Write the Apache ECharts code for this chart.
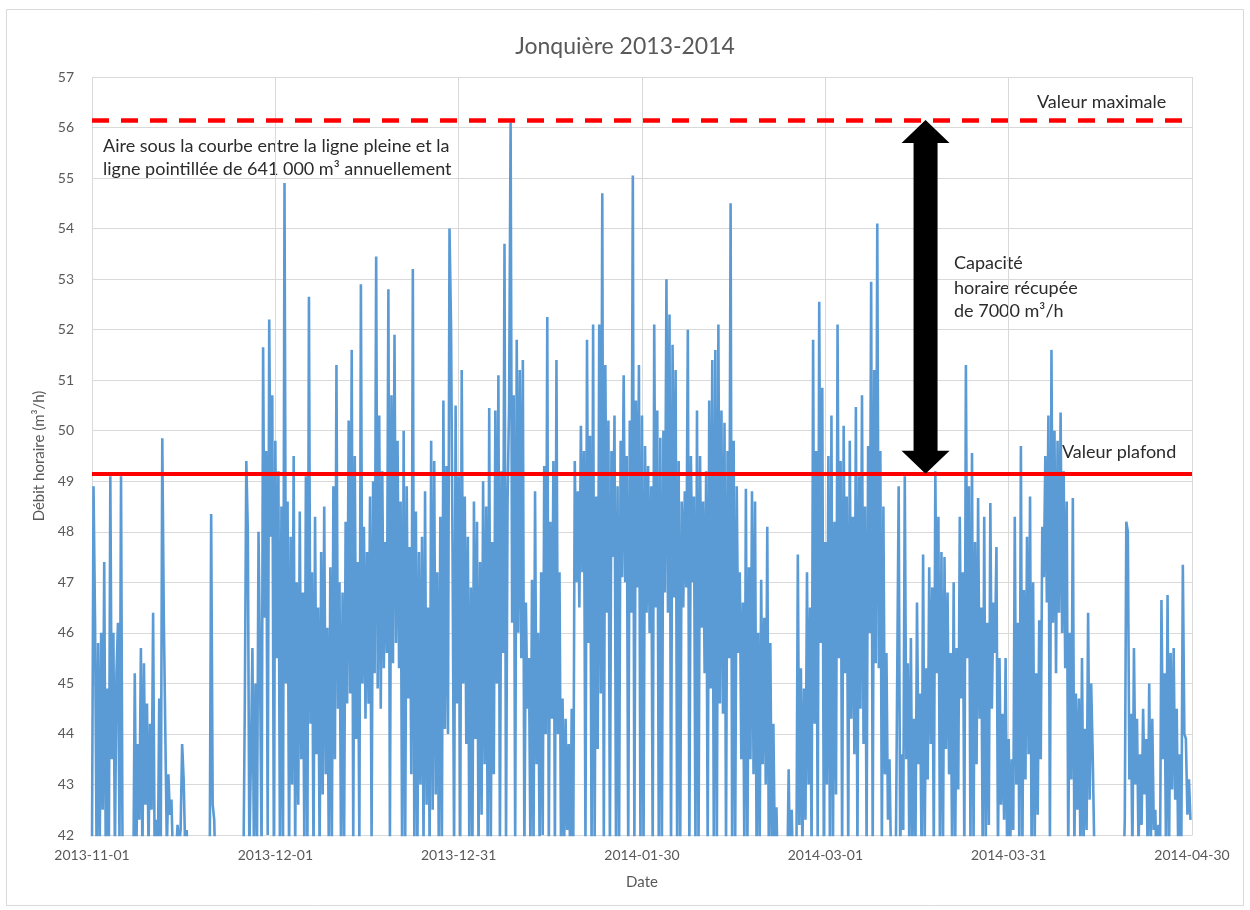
<!DOCTYPE html>
<html><head><meta charset="utf-8">
<script src="https://cdn.jsdelivr.net/npm/echarts@6/dist/echarts.min.js"></script>
<style>html,body{margin:0;padding:0;background:#fff}#c{width:1250px;height:910px}</style>
</head><body><div id="c"></div>
<script>
// Off-scale value (below the 42 axis minimum, clipped by the plot area)
const L = 41;
// Hourly flow (thousands m3/h), 4 readings per day (0h, 6h, 12h, 18h)
const nov = [
41.8,48.9,46.2,41.6, 45.8,41.5,46.0,42.5, 47.4,41.6,44.9,41.5, 49.1,43.5,46.0,41.6, 45.2,46.2,41.8,49.1,
41.5,L,L,L, L,L,L,L, 45.2,41.6,43.8,42.3, 45.7,41.5,45.4,42.6, 44.6,41.7,44.2,42.5,
46.4,41.6,42.3,L, 44.7,41.6,49.85,46.3, 44.0,41.7,43.2,42.4, 42.7,41.5,L,L, 42.2,41.8,42.1,43.8,
43.1,41.7,42.1,L, L,L,L,L, L,L,L,L, L,L,L,L, L,L,48.35,42.6,
42.3,L,L,L, L,L,L,L, L,L,L,L, L,L,L,L, L,L,L,L,
44.5,49.4,48.0,41.6, 43.5,45.7,41.6,45.0, 41.8,48.0,45.3,41.6, 51.65,46.3,49.6,42.0, 52.2,47.9,50.7,41.8
];
const dec = [
49.8,45.5,49.2,41.7, 48.5,41.6,54.9,45.0, 48.6,41.5,47.9,43.0, 49.5,41.6,47.0,42.6, 48.4,43.5,46.8,41.6,
49.1,41.7,52.65,44.2, 47.2,41.5,48.3,43.6, 46.5,41.6,47.6,42.8, 48.5,43.2,46.1,41.6, 47.3,41.8,48.9,43.5,
51.3,44.5,47.0,41.6, 46.8,41.7,48.2,44.6, 50.2,44.8,51.6,41.8, 49.5,43.9,47.4,41.7, 52.9,45.0,48.1,44.3,
47.6,44.6,48.7,41.8, 49.0,45.2,53.45,44.9, 50.3,44.5,49.2,45.3, 47.8,45.6,52.8,41.9, 50.7,45.4,51.9,45.8,
49.8,45.3,48.6,41.6, 50.0,41.7,48.9,44.7, 47.7,43.2,53.2,41.6, 48.4,41.6,47.6,43.0, 47.9,41.7,48.8,42.6,
46.5,41.6,49.8,42.5, 49.4,42.8,47.2,41.6, 48.3,41.7,50.6,44.1, 49.3,44.0,54.0,52.1, 47.6,41.6,50.5,44.6,
49.1,41.7,51.2,45.0
];
const jan = [
48.7,43.8,47.9,41.6, 46.9,41.7,48.6,43.9, 48.2,41.6,47.4,42.4, 49.0,43.4,48.5,41.7, 50.45,41.6,47.8,43.2,
50.4,45.0,51.1,41.7, 49.2,45.6,53.7,41.8, 48.6,50.5,56.1,46.2, 50.7,41.7,51.8,46.0, 51.2,45.5,51.4,41.6,
46.6,44.5,45.5,41.6, 47.05,41.7,48.8,43.4, 46.0,41.6,47.2,42.0, 49.3,44.0,52.25,41.7, 48.2,44.3,49.4,41.6,
51.4,44.0,47.2,41.7, 44.7,41.6,44.3,42.1, 43.8,41.5,44.5,41.6, 49.4,47.0,48.8,46.5, 50.1,47.2,49.6,41.7,
51.8,45.8,49.9,41.6, 52.1,41.7,48.7,43.7, 52.1,44.8,54.7,41.6, 51.3,46.4,50.2,41.7, 49.6,47.5,50.3,41.6,
48.9,41.7,49.8,47.1, 51.1,47.0,49.5,41.6, 50.2,46.4,55.05,41.7, 50.6,46.9,51.3,41.6, 50.3,41.6,49.7,46.4,
49.3,46.0,48.9,41.6
];
const feb = [
52.1,46.5,50.4,41.7, 49.86,41.6,50.0,46.8, 53.0,46.4,52.3,41.6, 51.7,46.7,51.2,41.7, 49.4,41.6,48.6,46.5,
48.8,46.9,52.0,41.6, 49.5,47.0,48.7,41.7, 50.4,41.6,49.5,46.1, 48.6,45.2,49.2,41.6, 50.6,44.9,51.4,41.7,
51.6,41.6,52.1,44.6, 50.4,44.4,50.16,41.7, 49.6,45.5,54.5,41.6, 49.8,41.7,48.9,45.6, 47.2,43.5,46.6,41.6,
48.85,41.7,47.3,43.5, 48.8,43.2,48.6,41.6, 46.0,41.7,47.05,43.4, 46.3,43.0,48.1,41.6, 45.8,41.7,44.2,41.5,
42.55,L,L,L, L,L,L,L, 43.3,L,42.5,L, L,L,47.55,42.2, 45.3,41.6,44.9,42.3,
47.2,43.0,46.5,41.6, 51.8,44.2,49.6,41.7, 52.55,45.8,50.85,41.6
];
const mar = [
47.8,43.0,49.5,41.6, 50.3,41.7,48.2,42.8, 52.1,45.5,49.4,41.6, 50.1,45.2,48.7,41.7, 49.8,44.3,48.3,43.6,
50.47,41.6,49.1,44.5, 50.7,43.8,48.5,41.7, 49.7,46.0,52.95,41.6, 51.2,45.4,54.1,45.3, 49.6,41.7,48.5,43.2,
45.6,42.3,43.5,41.5, L,L,L,L, 48.9,41.6,43.6,42.1, 49.1,43.5,45.4,41.6, 45.9,41.7,44.3,41.8,
46.6,43.4,44.8,41.6, 47.55,41.7,45.3,43.1, 47.3,43.8,46.9,41.6, 49.2,45.2,48.3,41.7, 47.6,41.6,47.5,43.7,
46.8,43.2,45.6,41.6, 47.0,41.7,45.7,42.9, 48.3,44.7,47.2,41.6, 51.3,45.5,48.9,41.7, 49.56,41.6,47.8,43.4,
48.67,44.3,46.5,41.6, 48.3,41.7,46.2,42.2, 48.57,44.5,46.6,45.6, 47.7,41.6,45.5,42.6, 44.4,42.3,45.5,41.6,
43.9,41.7,43.5,42.1
];
const apr = [
48.3,43.0,46.2,41.6, 49.7,41.7,46.85,43.1, 47.9,43.6,48.7,41.6, 47.0,41.7,45.2,42.4, 46.25,43.5,48.1,47.1,
49.5,46.6,50.3,41.7, 51.6,46.2,50.0,45.2, 49.8,46.4,50.36,46.0, 49.2,45.3,48.6,41.6, 46.0,43.1,48.67,41.7,
44.8,42.5,44.7,41.6, 45.5,41.7,44.1,42.1, 46.4,42.7,45.0,43.6, 41.8,L,L,L, L,L,L,L,
L,L,L,L, L,L,L,L, L,L,L,L, 42.3,48.2,48.0,43.1, 44.4,41.6,45.7,43.0,
44.3,41.7,43.6,42.2, 44.5,42.8,43.9,41.6, 45.0,41.7,44.3,42.1, 42.5,L,42.2,L, 46.65,43.5,45.2,41.6,
46.75,41.7,45.6,42.9, 45.7,42.7,44.5,41.6, 43.6,41.7,47.35,44.0, 43.9,42.4,43.1,42.3
];
const tickLabels = ['2013-11-01','2013-12-01','2013-12-31','2014-01-30','2014-03-01','2014-03-31','2014-04-30'];
const maxValue = 56.15;      // Valeur maximale
const ceilingValue = 49.15;  // Valeur plafond
const arrowDay = 136.4;
const samplesPerDay = 4;

const values = nov.concat(dec, jan, feb, mar, apr);
const flowData = values.map((v, i) => [i / samplesPerDay, v]);

const FONT = 'Lato, "Open Sans", sans-serif';
const TXT = {fontFamily: FONT, fontSize: 18, fill: '#2b2b2b'};
const chart = echarts.init(document.getElementById('c'), null, {renderer: 'canvas'});
chart.setOption({
  animation: false,
  backgroundColor: '#fff',
  title: {
    text: 'Jonquière 2013-2014', left: 'center', top: 30,
    textStyle: {fontFamily: FONT, fontSize: 23, fontWeight: 'normal', color: '#595959'}
  },
  grid: {left: 92, right: 58, top: 77, bottom: 75},
  xAxis: {
    type: 'value', min: 0, max: 180, interval: 30,
    name: 'Date', nameLocation: 'middle', nameGap: 40,
    nameTextStyle: {fontFamily: FONT, fontSize: 15, color: '#595959'},
    axisLine: {show: true, lineStyle: {color: '#d9d9d9', width: 1}},
    axisTick: {show: false},
    axisLabel: {fontFamily: FONT, fontSize: 14, color: '#595959', margin: 13,
      formatter: v => tickLabels[Math.round(v / 30)]},
    splitLine: {show: true, lineStyle: {color: '#d9d9d9', width: 1}}
  },
  yAxis: {
    type: 'value', min: 42, max: 57, interval: 1,
    name: 'Débit horaire (m³/h)', nameLocation: 'middle', nameGap: 44,
    nameTextStyle: {fontFamily: FONT, fontSize: 15, color: '#595959'},
    axisLine: {show: false}, axisTick: {show: false},
    axisLabel: {fontFamily: FONT, fontSize: 14, color: '#595959', margin: 18},
    splitLine: {show: true, lineStyle: {color: '#d9d9d9', width: 1}}
  },
  graphic: [
    {type: 'rect', shape: {x: 6.5, y: 9.5, width: 1237, height: 896}, style: {fill: 'none', stroke: '#d9d9d9', lineWidth: 1}, z: -10},
    {type: 'text', left: 103, top: 137, style: Object.assign({text: 'Aire sous la courbe entre la ligne pleine et la'}, TXT)},
    {type: 'text', left: 103, top: 160, style: Object.assign({text: 'ligne pointillée de 641 000 m³ annuellement'}, TXT)},
    {type: 'text', left: 954, top: 254, style: Object.assign({text: 'Capacité'}, TXT)},
    {type: 'text', left: 954, top: 279, style: Object.assign({text: 'horaire récupée'}, TXT)},
    {type: 'text', left: 954, top: 302, style: Object.assign({text: 'de 7000 m³/h'}, TXT)},
    {type: 'text', left: 1037, top: 93, style: Object.assign({text: 'Valeur maximale'}, TXT)},
    {type: 'text', left: 1062, top: 443, style: Object.assign({text: 'Valeur plafond'}, TXT)}
  ],
  series: [
    {
      name: 'Débit', type: 'line', data: flowData, showSymbol: false, clip: true,
      sampling: false, lineStyle: {color: '#5B9BD5', width: 2.6}, z: 2
    },
    {
      name: 'lignes', type: 'line', data: [], z: 4,
      markLine: {
        silent: true, symbol: 'none', label: {show: false},
        data: [
          {yAxis: maxValue, lineStyle: {color: '#ff0000', width: 4.5, type: [17, 12]}},
          {yAxis: ceilingValue, lineStyle: {color: '#ff0000', width: 4, type: 'solid'}}
        ]
      }
    },
    {
      name: 'flèche', type: 'custom', z: 6,
      data: [[arrowDay, ceilingValue, maxValue]],
      encode: {x: 0, y: [1, 2]},
      renderItem: function (params, api) {
        const x = api.value(0);
        const top = api.coord([x, api.value(2)]);
        const bot = api.coord([x, api.value(1)]);
        const cx = top[0], hw = 24, hh = 23, sw = 12;
        return {
          type: 'polygon',
          shape: {points: [
            [cx, top[1]], [cx + hw, top[1] + hh], [cx + sw, top[1] + hh],
            [cx + sw, bot[1] - hh], [cx + hw, bot[1] - hh], [cx, bot[1]],
            [cx - hw, bot[1] - hh], [cx - sw, bot[1] - hh],
            [cx - sw, top[1] + hh], [cx - hw, top[1] + hh]
          ]},
          style: {fill: '#000'}
        };
      }
    }
  ]
});
</script>
</body></html>
